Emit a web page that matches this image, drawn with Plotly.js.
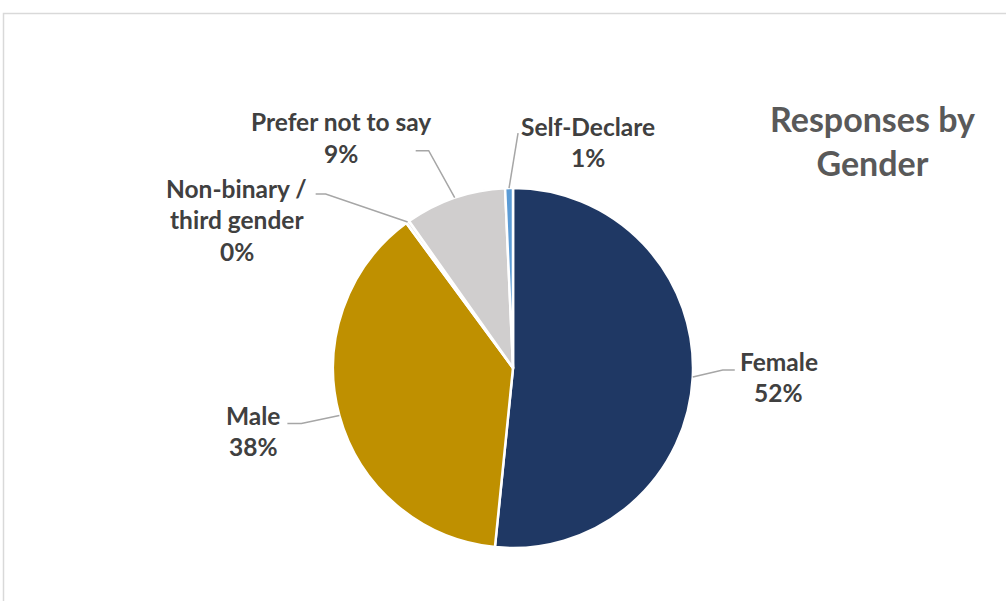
<!DOCTYPE html>
<html>
<head>
<meta charset="utf-8">
<script src="https://cdn.plot.ly/plotly-3.0.1.min.js"></script>
<style>html,body{margin:0;padding:0;background:#fff;}#chart{width:1006px;height:601px;}</style>
</head>
<body>
<div id="chart"></div>
<script>
// ---- data ----
const categories = ["Female", "Male", "Non-binary / third gender", "Prefer not to say", "Self-Declare"];
const labelLines = [["Female"], ["Male"], ["Non-binary /", "third gender"], ["Prefer not to say"], ["Self-Declare"]];
const values = [51.6, 38.3, 0.3, 9.1, 0.7];
const colors = ["#1F3864", "#BF9000", "#E7E6E6", "#D0CECE", "#5B9BD5"];
const chartTitle = "Responses by<br>Gender";

// ---- layout / style constants (pixels) ----
const W = 1006, H = 601;
const CX = 513, CY = 368, R = 180;
const FONT = "Lato, 'Open Sans', sans-serif";
const LABEL_SIZE = 24.5, LINE_GAP = 31.5;
// per-label placement relative to the slice's edge anchor: text offset, and leader path points
const labelStyle = [
  {text: [86, -16], path: [[30, -7], [42, -7]]},
  {text: [-86, 0], path: [[-38, 8], [-52, 8]]},
  {text: [-171, -34], path: [[-82, -28], [-92, -28]]},
  {text: [-114, -76], path: [[-26, -47], [-39, -47]]},
  {text: [79, -62], path: [[9, -55]]}
];

const px = x => x / W;
const py = y => 1 - y / H;

const total = values.reduce((a, b) => a + b, 0);
let cum = 0;
const annotations = [];
const shapes = [];
values.forEach((v, i) => {
  const mid = (cum + v / 2) / total * 2 * Math.PI;
  cum += v;
  const ax = CX + R * Math.sin(mid);
  const ay = CY - R * Math.cos(mid);
  const st = labelStyle[i];
  const pct = Math.round(v / total * 100) + "%";
  const lines = labelLines[i].concat([pct]);
  lines.forEach((t, k) => {
    annotations.push({
      xref: "paper", yref: "paper",
      x: px(ax + st.text[0]), y: py(ay + st.text[1] + k * LINE_GAP),
      xanchor: "center", yanchor: "middle",
      text: "<b>" + t + "</b>", showarrow: false,
      font: {family: FONT, size: LABEL_SIZE, color: "#404040"}
    });
  });
  let d = "M" + px(ax) + "," + py(ay);
  st.path.forEach(p => { d += " L" + px(ax + p[0]) + "," + py(ay + p[1]); });
  shapes.push({type: "path", xref: "paper", yref: "paper", path: d,
    line: {color: "#A6A6A6", width: 1.5}});
});

// title
annotations.push({
  xref: "paper", yref: "paper", x: px(872), y: py(140),
  xanchor: "center", yanchor: "middle",
  text: "<b>" + chartTitle + "</b>", showarrow: false,
  font: {family: FONT, size: 34, color: "#595959"}
});

// outer chart frame
shapes.push({type: "path", xref: "paper", yref: "paper",
  path: "M" + px(3.5) + "," + py(H + 5) + " L" + px(3.5) + "," + py(13.5) + " L" + px(W + 5) + "," + py(13.5),
  line: {color: "#D9D9D9", width: 1.5}});

const trace = {
  type: "pie",
  labels: categories,
  values: values,
  sort: false,
  direction: "clockwise",
  rotation: 0,
  textinfo: "none",
  hoverinfo: "label+percent",
  marker: {colors: colors, line: {color: "#FFFFFF", width: 2.5}},
  domain: {x: [px(CX - R), px(CX + R)], y: [py(CY + R), py(CY - R)]},
  showlegend: false
};

Plotly.newPlot("chart", [trace], {
  width: W, height: H,
  margin: {l: 0, r: 0, t: 0, b: 0},
  paper_bgcolor: "#FFFFFF",
  showlegend: false,
  annotations: annotations,
  shapes: shapes
}, {displayModeBar: false, staticPlot: true});
</script>
</body>
</html>
